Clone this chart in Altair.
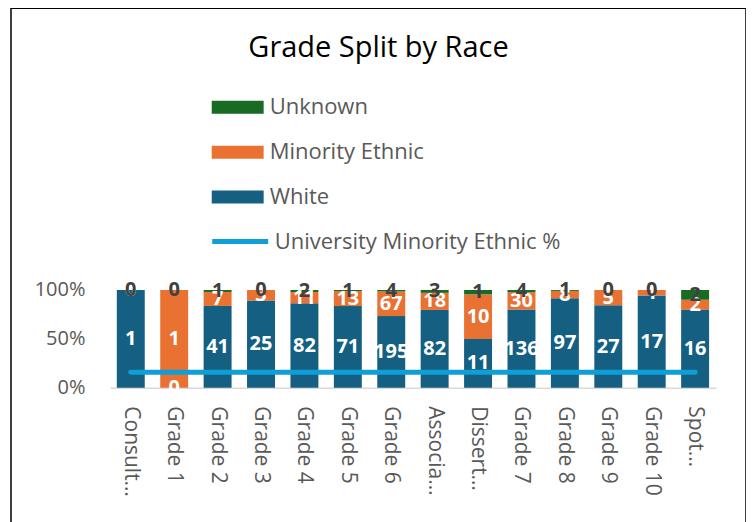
import altair as alt
import pandas as pd

# ---- data ----
categories = ["Consult…", "Grade 1", "Grade 2", "Grade 3", "Grade 4", "Grade 5", "Grade 6",
              "Associa…", "Dissert…", "Grade 7", "Grade 8", "Grade 9", "Grade 10", "Spot…"]
white = [1, 0, 41, 25, 82, 71, 195, 82, 11, 136, 97, 27, 17, 16]
minority = [0, 1, 7, 3, 11, 13, 67, 18, 10, 30, 8, 5, 1, 2]
unknown = [0, 0, 1, 0, 2, 1, 4, 3, 1, 4, 1, 0, 0, 2]
university_minority_pct = [0.16, 0.16, 0.16, 0.16, 0.16, 0.16, 0.16,
                           0.16, 0.16, 0.16, 0.16, 0.16, 0.16, 0.16]
bar_series = ["Unknown", "Minority Ethnic", "White"]
bar_colors = ["#196B24", "#E97132", "#156082"]
line_name = "University Minority Ethnic %"
line_color = "#0F9ED5"

FONT = "Open Sans"
GRAY = "#595959"

rows = []
for i, c in enumerate(categories):
    rows.append({"grade": c, "race": "White", "count": white[i], "ord": 0})
    rows.append({"grade": c, "race": "Minority Ethnic", "count": minority[i], "ord": 1})
    rows.append({"grade": c, "race": "Unknown", "count": unknown[i], "ord": 2})
df = pd.DataFrame(rows)
df_line = pd.DataFrame({"grade": categories, "pct": university_minority_pct,
                        "series": [line_name] * len(categories)})

x_scale = alt.Scale(domain=categories, range=[99, 706], paddingInner=0.356, paddingOuter=0.16)
y_scale = alt.Scale(domain=[0, 1], range=[380, 282])

bar_legend = alt.Legend(
    orient="none", legendX=201, legendY=73, direction="vertical", title=None,
    symbolType="M-1,-0.25H1V0.25H-1Z", symbolSize=2704, symbolStrokeWidth=0,
    labelFont=FONT, labelFontSize=22, labelColor=GRAY, labelOffset=6,
    rowPadding=8, padding=0, symbolOpacity=1,
)
line_legend = alt.Legend(
    orient="none", legendX=199, legendY=203, direction="vertical", title=None,
    symbolType="stroke", symbolSize=3136, symbolStrokeWidth=5,
    labelFont=FONT, labelFontSize=22, labelColor=GRAY, labelOffset=4, labelLimit=400,
    padding=0, symbolOpacity=1,
)

stacked = alt.Chart(df).transform_stack(
    stack="count", groupby=["grade"], as_=["y0", "y1"],
    sort=[alt.SortField("ord", order="ascending")], offset="normalize"
).transform_calculate(mid="(datum.y0 + datum.y1) / 2")

bars = stacked.mark_bar().encode(
    x=alt.X("grade:N", scale=x_scale, sort=categories, title=None,
            axis=alt.Axis(labelAngle=90, labelFont=FONT, labelFontSize=21, labelColor=GRAY,
                          labelPadding=18, ticks=False, domainColor="#D9D9D9", domainWidth=1.5,
                          offset=-140, labelLimit=300, grid=False)),
    y=alt.Y("y0:Q", scale=y_scale, title=None,
            axis=alt.Axis(values=[0, 0.5, 1], format=".0%", labelFont=FONT, labelFontSize=20,
                          labelColor=GRAY, ticks=False, domain=False, grid=False,
                          labelPadding=10, offset=-84)),
    y2="y1:Q",
    color=alt.Color("race:N", scale=alt.Scale(domain=bar_series, range=bar_colors), legend=bar_legend),
)

line = alt.Chart(df_line).mark_line(strokeWidth=5, strokeCap="round").encode(
    x=alt.X("grade:N", scale=x_scale, sort=categories, title=None),
    y=alt.Y("pct:Q", scale=y_scale, title=None),
    stroke=alt.Stroke("series:N", scale=alt.Scale(domain=[line_name], range=[line_color]),
                      legend=line_legend),
)

labels = stacked.mark_text(font=FONT, fontSize=20, fontWeight="bold", align="center",
                           baseline="middle").encode(
    x=alt.X("grade:N", scale=x_scale, sort=categories, title=None),
    y=alt.Y("mid:Q", scale=y_scale, title=None),
    text=alt.Text("count:Q"),
    color=alt.condition(alt.datum.race == "Unknown", alt.value("#404040"), alt.value("white")),
)

chart = alt.layer(bars, line, labels).resolve_scale(color="independent").properties(
    width=736, height=520,
    title=alt.Title("Grade Split by Race", font=FONT, fontSize=29, fontWeight="normal",
                    color="black", anchor="middle", offset=0, dy=78, baseline="alphabetic"),
    padding={"left": 3, "top": 0, "right": 0, "bottom": 0},
    autosize=alt.AutoSizeParams(type="none"),
).configure_view(stroke="black", strokeWidth=1.5)

chart.save("out.html", embed_options={"renderer": "svg", "actions": False})
